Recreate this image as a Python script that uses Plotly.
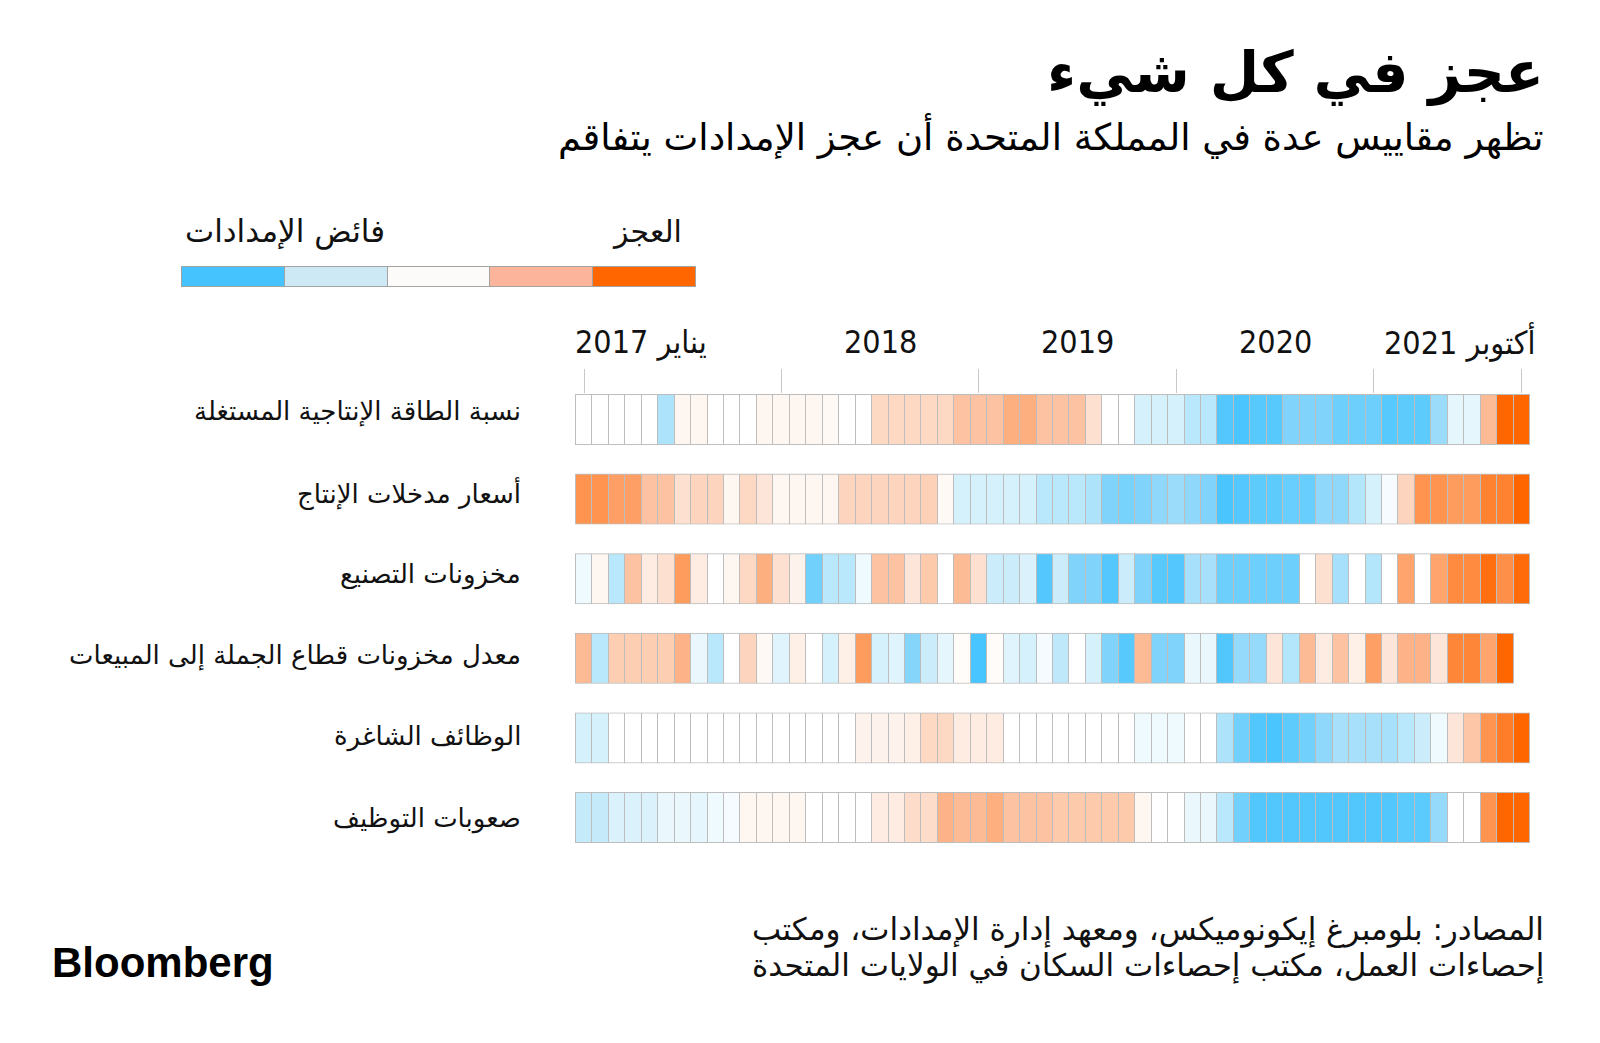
import plotly.graph_objects as go

W, H = 1600, 1043

# ---------------- data ----------------
# monthly, Jan 2017 .. Oct 2021 (58 months); values: -4 = strong surplus (blue), +4 = strong shortage (orange)
months = [f"{y}-{m:02d}" for y in range(2017, 2022) for m in range(1, 13)][:58]

row_labels = [
    "نسبة الطاقة الإنتاجية المستغلة",
    "أسعار مدخلات الإنتاج",
    "مخزونات التصنيع",
    "معدل مخزونات قطاع الجملة إلى المبيعات",
    "الوظائف الشاغرة",
    "صعوبات التوظيف",
]

capacity_util = [0, 0, 0, 0, 0, -1.5, 0.3, 0.3, 0, 0, 0, 0.3, 0.3, 0.3, 0.3, 0.2, 0, 0,
                 1.2, 1.2, 1.2, 1.2, 1.2, 1.8, 1.8, 1.8, 2.3, 2.3, 1.8, 1.8, 1.8, 1.0, 0, 0,
                 -0.8, -0.8, -0.8, -1.3, -1.3, -3.3, -3.6, -3.2, -3.2, -2.3, -2.3, -2.3,
                 -2.7, -2.7, -2.7, -3.2, -3.0, -3.0, -1.8, -0.5, -0.5, 2.0, 4.0, 4.0]

input_prices = [3.0, 3.0, 2.7, 2.7, 1.8, 1.8, 1.0, 1.3, 1.3, 0.3, 1.2, 0.8, 0.3, 0.3, 0.3, 0.3,
                1.3, 1.3, 1.3, 1.3, 1.3, 1.4, 0.2, -0.8, -0.8, -0.8, -0.8, -0.8, -1.3, -1.3,
                -1.3, -1.5, -2.3, -2.5, -2.3, -2.0, -1.8, -2.0, -2.3, -3.6, -3.3, -3.0, -3.0,
                -2.8, -2.8, -2.0, -2.0, -1.4, -0.8, -0.2, 1.3, 3.0, 3.0, 2.8, 2.8, 3.4, 3.4, 4.0]

mfg_stocks = [-0.3, 0.3, -1.3, 1.8, 0.6, 1.0, 2.8, 0.6, 0, 0.3, 1.2, 2.3, 1.0, 0.4, -2.6,
              -1.3, -1.3, -0.3, 1.8, 1.8, 0.8, 1.6, 0, 2.0, 1.0, -1.0, -1.0, -0.7, -3.3,
              -1.0, -2.3, -2.3, -3.3, -1.0, -2.3, -3.2, -3.3, -1.6, -1.6, -2.7, -2.7, -2.7,
              -2.7, -2.7, 0, 1.0, -1.6, 0, -1.4, 0, 2.6, 0, 2.6, 3.2, 3.2, 3.8, 3.1, 3.9]

wholesale_ratio = [2.0, -1.3, 1.5, 1.5, 1.5, 1.5, 2.2, -0.4, -1.3, 0, 1.3, 0.2, -0.6, 0.5,
                   0, -0.8, 0.5, 2.8, -0.8, -0.6, -2.2, -1.0, -0.5, 0.1, -3.7, 0.1, -0.6,
                   -0.8, -0.2, -1.2, 0, -0.8, -2.3, -3.2, 2.0, -2.3, -2.3, -0.4, -0.4, -3.4,
                   -1.9, -1.9, 0.8, -1.4, 2.0, 0.6, 1.8, 0.5, 2.7, 0.8, 2.2, 2.2, 0.8, 3.3,
                   3.3, 2.6, 4.0, None]

vacancies = [-0.8, -0.8, 0, 0, 0, 0, 0, 0, 0, 0, 0, 0, 0, 0, 0, 0, 0, 0.4, 0.4, 0.4, 0.5,
             1.2, 1.2, 0.6, 0.6, 0.6, 0, 0, 0, 0, 0, 0, 0, 0, -0.3, -0.3, -0.3, 0, 0, -1.5,
             -2.6, -3.4, -3.6, -3.0, -2.6, -2.0, -1.6, -1.6, -1.6, -1.6, -1.3, -1.0, -0.3,
             0.8, 1.7, 3.0, 3.5, 4.0]

recruit_diff = [-1.1, -1.1, -0.7, -0.7, -0.7, -0.4, -0.4, -0.5, -0.3, -0.2, 0.3, 0.3, 0.3,
                0.3, 0, 0, 0, 0, 0.6, 0.6, 1.1, 1.1, 2.2, 2.0, 2.0, 2.3, 1.8, 1.8, 1.8, 1.6,
                1.6, 1.6, 1.6, 1.6, 0.3, 0, 0, -0.4, -0.4, -1.3, -2.6, -3.4, -3.4, -3.4, -3.4,
                -3.4, -3.4, -3.4, -3.4, -3.4, -3.1, -3.1, -1.9, 0, 0, 3.0, 4.0, 4.0]

series = [capacity_util, input_prices, mfg_stocks, wholesale_ratio, vacancies, recruit_diff]

legend_labels_low_high = ["فائض الإمدادات", "العجز"]
legend_steps = [0, 1, 2, 3, 4]

axis_labels = ["يناير 2017", "2018", "2019", "2020", "أكتوبر 2021"]

title = "عجز في كل شيء"
subtitle = "تظهر مقاييس عدة في المملكة المتحدة أن عجز الإمدادات يتفاقم"
source_lines = ["المصادر: بلومبرغ إيكونوميكس، ومعهد إدارة الإمدادات، ومكتب",
                "إحصاءات العمل، مكتب إحصاءات السكان في الولايات المتحدة"]

# ---------------- styles ----------------
colorscale = [
    [0.000, "#3ec1ff"],
    [0.125, "#5ecbfd"],
    [0.250, "#8fd8fb"],
    [0.375, "#cbedfb"],
    [0.500, "#ffffff"],
    [0.625, "#fde0cf"],
    [0.750, "#fdbb95"],
    [0.875, "#fe9450"],
    [1.000, "#ff6600"],
]
legend_colors = ["#45c3ff", "#cce9f5", "#fdfbfa", "#fcb49a", "#ff6600"]
border_gray = "#bdbdbd"

def px(x):
    return x / W

def py(y):
    return 1 - y / H

fig = go.Figure()

n = len(months)
x0px, x1px = 576, 1530
cell_px = (x1px - x0px) / n
pad = 1.0 / cell_px
row_top0, pitch, row_h = 394, 79.6, 51

layout_axes = {}
xc = list(range(n))
xedges = [-0.5 - pad] + [i + 0.5 for i in range(n)]

for r, vals in enumerate(series):
    yname = "y" if r == 0 else f"y{r + 1}"
    top = row_top0 + r * pitch
    bot = top + row_h
    border = [1 if v is not None else None for v in vals]
    fig.add_trace(go.Heatmap(
        x=xedges, y=[-0.5, 0.5], z=[border], xaxis="x", yaxis=yname,
        colorscale=[[0, border_gray], [1, border_gray]], zmin=0, zmax=1,
        showscale=False, hoverinfo="skip"))
    fig.add_trace(go.Heatmap(
        x=xc, y=[-0.5, 0.5], z=[vals], xaxis="x", yaxis=yname,
        colorscale=colorscale, zmin=-4, zmax=4, xgap=1, ygap=2,
        showscale=False, customdata=[months], name=row_labels[r],
        hovertemplate="%{customdata}: %{z}<extra></extra>"))
    key = "yaxis" if r == 0 else f"yaxis{r + 1}"
    layout_axes[key] = dict(domain=[py(bot), py(top)], range=[-0.5, 0.5], anchor="x",
                            visible=False, fixedrange=True)

# top axis with month ticks (Jan of each year + Oct 2021)
tick_idx = [i for i, m in enumerate(months) if m.endswith("-01")] + [n - 1]
layout_axes["xaxis"] = dict(domain=[px(x0px - 1), px(x1px)], range=[-0.5 - pad, n - 0.5],
                            anchor="y", side="top", ticks="outside", ticklen=24,
                            tickwidth=1, tickcolor="#c8c8c8", tickvals=tick_idx,
                            showticklabels=False, showgrid=False, zeroline=False,
                            showline=False, fixedrange=True)

# legend bar as a small heatmap
lx0, lx1, ly0, ly1 = 182, 696, 266, 287
lcell = (lx1 - lx0) / len(legend_steps)
lpad = 1.0 / lcell
fig.add_trace(go.Heatmap(
    x=[-0.5 - lpad] + [i + 0.5 for i in legend_steps], y=[-0.5, 0.5],
    z=[[1] * len(legend_steps)], xaxis="x7", yaxis="y7",
    colorscale=[[0, "#a3a3a3"], [1, "#a3a3a3"]], zmin=0, zmax=1,
    showscale=False, hoverinfo="skip"))
fig.add_trace(go.Heatmap(
    x=legend_steps, y=[-0.5, 0.5], z=[legend_steps], xaxis="x7", yaxis="y7",
    colorscale=[[i / 4, c] for i, c in enumerate(legend_colors)], zmin=0, zmax=4,
    xgap=1, ygap=2, showscale=False, hoverinfo="skip"))
layout_axes["xaxis7"] = dict(domain=[px(lx0 - 1), px(lx1)], range=[-0.5 - lpad, 4.5],
                             anchor="y7", visible=False, fixedrange=True)
layout_axes["yaxis7"] = dict(domain=[py(ly1), py(ly0)], range=[-0.5, 0.5], anchor="x7",
                             visible=False, fixedrange=True)

AR = "DejaVu Sans"
NUM = "DejaVu Sans Condensed, DejaVu Sans"

ann = []
ann.append(dict(text=f"<b>{title}</b>", x=px(1546), y=py(72), xanchor="right", yanchor="middle",
                font=dict(family=AR, size=57, color="#000")))
ann.append(dict(text=subtitle, x=px(1546), y=py(136), xanchor="right", yanchor="middle",
                font=dict(family=AR, size=37, color="#000")))
ann.append(dict(text=legend_labels_low_high[0], x=px(183), y=py(231), xanchor="left",
                yanchor="middle", font=dict(family=AR, size=31, color="#111")))
ann.append(dict(text=legend_labels_low_high[1], x=px(684), y=py(231), xanchor="right",
                yanchor="middle", font=dict(family=AR, size=30, color="#111")))

# axis labels: first anchored at Jan 2017, years centred on their year, last at Oct 2021
year_starts = [i for i, m in enumerate(months) if m.endswith("-01")]
label_pos = ([(-0.5, "left", -3)] + [(year_starts[k] + 6, "center", 0) for k in (1, 2, 3)]
             + [(n - 0.5, "right", 8)])
for txt, (xv, anc, sh) in zip(axis_labels, label_pos):
    ann.append(dict(text=txt, x=xv, xref="x", y=py(342), yref="paper", xanchor=anc,
                    xshift=sh, yanchor="middle", font=dict(family=NUM, size=32, color="#111")))

# row labels (spaced slightly wider than the rows, as in the original)
for r, lab in enumerate(row_labels):
    cy = 412 + r * 81.2
    ann.append(dict(text=lab, x=px(523), y=py(cy), xanchor="right", yanchor="middle",
                    font=dict(family=AR, size=26, color="#111")))

for k, line in enumerate(source_lines):
    ann.append(dict(text=line, x=px(1546), y=py(929 + k * 36), xanchor="right",
                    yanchor="middle", font=dict(family=AR, size=31, color="#111")))
ann.append(dict(text="<b>Bloomberg</b>", x=px(50), y=py(962), xanchor="left", yanchor="middle",
                font=dict(family="Liberation Sans, Arial", size=42, color="#000")))

for a in ann:
    a.setdefault("xref", "paper")
    a.setdefault("yref", "paper")
    a["showarrow"] = False

fig.update_layout(
    width=W, height=H, margin=dict(l=0, r=0, t=0, b=0),
    paper_bgcolor="#ffffff", plot_bgcolor="rgba(0,0,0,0)",
    showlegend=False, annotations=ann, **layout_axes)

fig.write_html("out.html", config={"displayModeBar": False})
